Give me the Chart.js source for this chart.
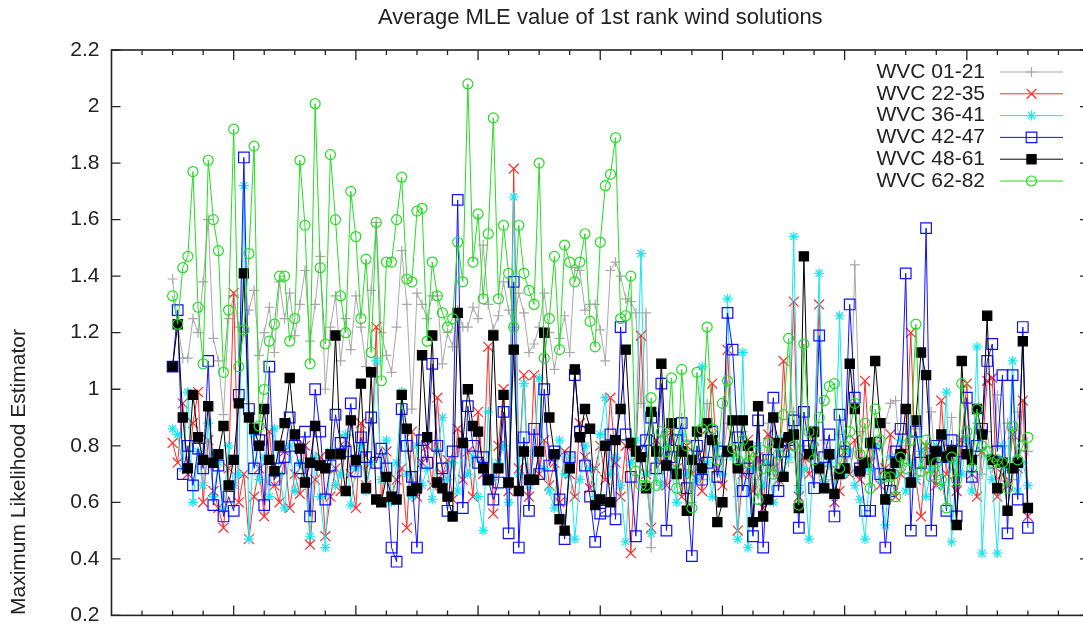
<!DOCTYPE html>
<html>
<head>
<meta charset="utf-8">
<title>Average MLE value of 1st rank wind solutions</title>
<script src="https://cdn.jsdelivr.net/npm/chart.js@4/dist/chart.umd.min.js"></script>
<style>
  html, body { margin: 0; padding: 0; background: #fff; overflow: hidden; }
  #wrap { position: relative; width: 1100px; height: 640px; }
</style>
</head>
<body>
<div id="wrap"><canvas id="mleChart"></canvas></div>
<script>
// day axis: samples run from day 12 to day 180, ticks every 6 days, long ticks every 24
const firstDay = 12;
const dayMax = 192;
const minorStep = 6;
const majorStep = 24;

const chartTitle = "Average MLE value of 1st rank wind solutions";
const yAxisTitle = "Maximum Likelihood Estimator";
const yTickValues = [0.2, 0.4, 0.6, 0.8, 1.0, 1.2, 1.4, 1.6, 1.8, 2.0, 2.2];

const seriesNames = ["WVC 01-21", "WVC 22-35", "WVC 36-41", "WVC 42-47", "WVC 48-61", "WVC 62-82"];

const wvc01_21 = [
    1.39, 1.23, 1.11, 1.11, 1.25, 1.20, 1.38, 1.60, 1.18, 1.10,
    0.91, 1.25, 1.33, 1.22, 1.20, 1.28, 1.35, 1.12, 1.20, 1.29,
    1.13, 1.38, 1.25, 1.34, 1.19, 1.30, 1.42, 1.17, 1.30, 1.47,
    1.00, 1.22, 1.33, 1.10, 1.25, 1.14, 1.33, 1.22, 1.08, 1.35,
    1.59, 1.20, 1.12, 1.06, 1.22, 1.49, 1.30, 0.93, 1.34, 1.30,
    1.25, 1.33, 1.33, 1.09, 1.20, 1.15, 1.28, 1.22, 1.22, 1.29,
    1.25, 1.51, 1.30, 1.21, 1.26, 1.38, 1.28, 1.22, 1.34, 1.27,
    1.13, 1.16, 1.22, 1.34, 1.20, 1.07, 1.18, 1.26, 1.13, 1.43,
    1.42, 1.28, 1.30, 1.30, 1.21, 1.10, 1.42, 1.45, 1.40, 1.32,
    1.31, 1.27, 0.95, 1.27, 0.44, 0.80, 0.75, 0.85, 0.78, 0.72,
    0.90, 0.82, 0.60, 0.78, 0.68, 0.95, 0.82, 0.70, 0.75, 0.88,
    0.80, 0.62, 0.85, 0.72, 0.80, 0.68, 0.75, 0.88, 0.70, 0.82,
    0.78, 0.74, 0.92, 0.66, 0.80, 0.76, 0.84, 0.70, 0.82, 0.78,
    0.68, 0.84, 0.72, 0.78, 1.44, 0.85, 0.70, 0.76, 0.82, 0.68,
    0.88, 0.95, 0.96, 0.74, 0.80, 0.70, 0.86, 0.72, 0.78, 0.92,
    0.68, 0.80, 0.74, 0.90, 0.66, 0.82, 0.95, 0.76, 0.88, 0.70,
    0.85, 0.72, 0.98, 0.80, 0.88, 0.68, 0.92, 0.82, 0.78
];

const wvc22_35 = [
    0.81, 0.74, 0.95, 0.70, 0.88, 0.99, 0.60, 0.82, 0.64, 0.58,
    0.51, 0.72, 1.34, 0.60, 0.70, 0.47, 0.62, 0.72, 0.55, 0.85,
    0.66, 0.60, 0.78, 0.58, 0.70, 0.63, 0.80, 0.45, 0.68, 0.76,
    0.48, 0.62, 0.72, 0.64, 0.82, 0.70, 0.58, 0.88, 0.66, 0.74,
    1.22, 0.60, 0.78, 0.62, 0.68, 0.72, 0.51, 0.85, 0.62, 0.74,
    0.80, 0.66, 0.97, 0.70, 0.75, 0.61, 0.86, 0.68, 0.78, 0.62,
    0.92, 0.70, 1.15, 0.56, 0.80, 1.00, 0.64, 1.78, 0.72, 1.05,
    0.62, 1.05, 0.70, 0.82, 0.66, 0.74, 0.60, 0.78, 0.70, 0.62,
    0.88, 0.76, 0.65, 0.72, 0.80, 0.68, 0.97, 0.74, 0.62, 0.80,
    0.42, 0.76, 1.19, 0.70, 0.51, 0.82, 0.74, 0.66, 0.85, 0.72,
    0.62, 0.80, 0.70, 0.76, 0.64, 0.86, 1.02, 0.72, 0.66, 1.14,
    0.78, 0.50, 0.70, 0.82, 0.64, 0.76, 0.58, 0.84, 0.72, 0.68,
    1.10, 0.80, 1.31, 0.62, 0.76, 0.70, 0.82, 1.30, 0.66, 0.74,
    0.60, 0.64, 0.78, 0.70, 0.82, 0.68, 1.03, 0.74, 0.80, 0.66,
    0.72, 0.84, 0.62, 0.70, 0.78, 1.20, 0.68, 0.55, 0.80, 0.72,
    0.66, 0.96, 0.70, 0.76, 0.64, 0.82, 1.02, 0.70, 0.62, 0.78,
    1.03, 1.04, 0.62, 0.70, 0.66, 0.84, 0.72, 0.96, 0.55
];

const wvc36_41 = [
    0.86, 0.84, 0.72, 0.99, 0.60, 0.78, 0.66, 0.88, 0.62, 0.74,
    0.58, 0.80, 0.66, 0.70, 1.72, 0.47, 0.84, 0.68, 0.76, 0.62,
    0.86, 0.70, 0.58, 0.80, 0.64, 0.74, 0.68, 0.48, 0.76, 0.62,
    0.44, 0.78, 0.66, 0.70, 0.84, 0.59, 0.72, 0.80, 0.64, 0.74,
    1.10, 0.68, 0.82, 0.60, 0.74, 0.99, 0.70, 0.62, 0.80, 0.66,
    0.72, 0.61, 0.78, 0.90, 0.68, 0.74, 0.64, 0.82, 0.70, 0.76,
    0.62, 0.50, 0.92, 0.68, 0.74, 0.80, 0.60, 1.68, 0.70, 1.02,
    0.66, 0.78, 1.04, 0.72, 0.64, 0.58, 0.82, 0.70, 0.76, 0.47,
    0.68, 0.80, 0.72, 0.62, 0.84, 0.97, 0.70, 0.76, 0.66, 0.46,
    0.74, 0.82, 1.48, 0.70, 0.49, 0.78, 0.66, 0.80, 0.72, 0.60,
    0.84, 0.70, 0.76, 0.68, 1.08, 0.74, 0.62, 0.80, 0.70, 1.32,
    0.76, 0.47, 1.13, 0.44, 0.72, 0.80, 0.66, 0.74, 0.60, 0.82,
    0.70, 0.76, 1.54, 0.64, 0.72, 0.47, 0.80, 1.41, 0.68, 0.74,
    0.62, 1.26, 0.70, 0.78, 0.66, 0.61, 0.47, 0.72, 0.80, 0.68,
    0.52, 0.76, 0.70, 0.82, 0.64, 0.74, 0.68, 0.78, 0.62, 0.72,
    0.80, 0.66, 0.99, 0.46, 0.74, 0.70, 0.82, 0.64, 1.15, 0.42,
    0.76, 0.68, 0.42, 0.80, 0.72, 1.10, 0.64, 0.74, 0.66
];

const wvc42_47 = [
    1.08, 1.28, 0.70, 0.80, 0.66, 0.79, 0.72, 1.10, 0.59, 0.73,
    0.55, 0.62, 0.57, 0.98, 1.82, 0.93, 0.72, 0.82, 0.59, 1.08,
    0.68, 0.72, 0.76, 0.90, 0.80, 0.72, 0.85, 0.55, 1.00, 0.85,
    0.61, 0.73, 0.91, 0.81, 0.78, 0.95, 0.71, 0.83, 0.76, 0.90,
    0.74, 0.79, 0.72, 0.44, 0.39, 0.93, 0.80, 0.69, 0.44, 0.82,
    0.74, 1.09, 0.80, 0.72, 0.57, 0.78, 1.67, 0.58, 0.94, 0.80,
    0.74, 0.76, 0.68, 0.61, 0.67, 0.92, 0.49, 1.38, 0.44, 0.83,
    0.57, 0.86, 0.70, 1.00, 0.73, 0.78, 0.61, 0.47, 0.76, 1.05,
    0.85, 0.73, 0.62, 0.46, 0.56, 0.57, 0.84, 0.54, 1.22, 0.84,
    0.69, 0.48, 0.78, 0.82, 0.90, 0.72, 1.02, 0.50, 0.76, 0.82,
    0.88, 0.65, 0.41, 0.80, 0.68, 0.74, 0.85, 0.69, 0.78, 1.27,
    1.14, 0.83, 0.64, 0.72, 0.48, 0.89, 0.44, 0.75, 0.97, 0.64,
    0.78, 0.82, 0.89, 0.51, 0.92, 0.80, 0.65, 1.19, 0.76, 0.84,
    0.55, 0.91, 0.78, 1.30, 0.97, 0.72, 0.57, 0.57, 0.81, 0.70,
    0.44, 0.64, 0.78, 0.86, 1.41, 0.50, 0.85, 0.74, 1.57, 0.50,
    0.80, 0.76, 0.57, 0.82, 0.55, 0.78, 0.97, 0.69, 0.80, 0.86,
    1.10, 1.16, 0.78, 1.05, 0.49, 1.05, 0.61, 1.22, 0.51
];

const wvc48_61 = [
    1.08, 1.23, 0.90, 0.72, 0.98, 0.83, 0.75, 0.94, 0.74, 0.77,
    0.87, 0.66, 0.75, 0.95, 1.41, 0.90, 0.86, 0.80, 0.93, 0.75,
    0.71, 0.80, 0.88, 1.04, 0.84, 0.79, 0.67, 0.74, 0.87, 0.73,
    0.72, 0.77, 1.19, 0.77, 0.64, 0.89, 0.75, 1.02, 0.65, 1.06,
    0.61, 0.60, 0.69, 0.62, 0.61, 0.98, 0.86, 0.64, 0.65, 1.12,
    0.83, 1.19, 0.67, 0.65, 0.62, 0.55, 1.27, 0.81, 1.00, 0.87,
    0.85, 0.72, 0.68, 1.19, 0.72, 0.98, 0.67, 1.14, 0.64, 0.78,
    0.68, 0.68, 0.78, 1.20, 0.90, 0.77, 0.54, 0.50, 0.72, 1.07,
    0.83, 0.93, 0.86, 0.59, 0.61, 0.80, 0.60, 0.82, 0.93, 1.14,
    0.81, 0.78, 0.76, 0.65, 0.92, 0.78, 1.09, 0.73, 0.88, 0.70,
    0.78, 0.57, 0.75, 0.85, 0.72, 0.88, 0.82, 0.53, 0.60, 0.78,
    0.89, 0.72, 0.89, 0.80, 0.53, 0.94, 0.55, 0.61, 0.90, 0.81,
    0.69, 0.83, 0.84, 0.58, 1.47, 0.77, 0.85, 0.72, 0.65, 0.77,
    0.63, 0.70, 0.72, 1.09, 0.93, 0.71, 0.74, 0.81, 1.10, 0.88,
    0.61, 0.70, 0.74, 0.77, 0.93, 0.67, 0.89, 1.13, 1.05, 0.75,
    0.78, 0.84, 0.76, 0.78, 0.52, 1.10, 0.77, 0.75, 0.93, 0.84,
    1.26, 0.75, 0.65, 0.74, 0.57, 0.72, 0.74, 1.17, 0.58
];

const wvc62_82 = [
    1.33, 1.23, 1.43, 1.47, 1.77, 1.29, 1.09, 1.81, 1.60, 1.49,
    1.06, 1.28, 1.92, 1.08, 1.21, 1.48, 1.86, 0.87, 1.00, 1.17,
    1.23, 1.40, 1.40, 1.17, 1.25, 1.81, 1.58, 1.09, 2.01, 1.43,
    1.16, 1.83, 1.60, 1.33, 1.20, 1.70, 1.54, 1.25, 1.46, 1.13,
    1.59, 1.03, 1.45, 1.45, 1.60, 1.75, 1.39, 1.38, 1.63, 1.64,
    1.17, 1.45, 1.33, 1.27, 1.22, 1.25, 1.52, 1.38, 2.08, 1.45,
    1.62, 1.32, 1.55, 1.96, 1.32, 1.58, 1.41, 1.22, 1.58, 1.41,
    1.35, 1.30, 1.80, 1.11, 1.25, 1.47, 1.14, 1.51, 1.45, 1.38,
    1.45, 1.55, 1.24, 1.15, 1.52, 1.72, 1.76, 1.89, 1.25, 1.26,
    1.40, 0.71, 0.66, 0.66, 0.97, 0.66, 0.85, 0.78, 1.04, 0.65,
    1.07, 0.80, 0.58, 1.06, 0.86, 1.22, 0.86, 0.75, 0.95, 1.03,
    0.79, 0.75, 0.82, 0.74, 0.78, 0.61, 0.72, 0.81, 0.70, 0.77,
    0.91, 1.18, 0.80, 0.59, 1.16, 0.85, 0.75, 0.90, 0.96, 1.01,
    1.02, 0.72, 0.80, 0.85, 0.95, 0.77, 0.88, 0.65, 0.93, 0.82,
    0.69, 0.69, 0.62, 0.76, 0.72, 0.82, 1.23, 0.71, 0.82, 0.69,
    0.74, 0.68, 0.58, 0.76, 0.68, 1.02, 0.85, 0.72, 0.93, 0.80,
    0.78, 0.74, 0.75, 0.74, 0.65, 0.87, 0.75, 0.80, 0.83
];

const seriesValues = [wvc01_21, wvc22_35, wvc36_41, wvc42_47, wvc48_61, wvc62_82];

// gnuplot-like line/point styles, drawn bottom to top (higher order first)
const seriesStyles = [
    { color: "#a8a8a8", point: "cross",    radius: 5,   fill: "transparent", order: 5 },
    { color: "#ff2a2a", point: "crossRot", radius: 7,   fill: "transparent", order: 4 },
    { color: "#12e8f0", point: "star",     radius: 5,   fill: "transparent", order: 3 },
    { color: "#1010ff", point: "rect",     radius: 7.5, fill: "transparent", order: 2 },
    { color: "#000000", point: "rect",     radius: 6.5, fill: "#000000",     order: 1 },
    { color: "#22dd22", point: "circle",   radius: 5,   fill: "transparent", order: 0 }
];

const FONT = '"Liberation Sans", Arial, sans-serif';
const TEXT_COLOR = "#222";

function toPoints(values) {
    return values.map((v, k) => ({ x: firstDay + k, y: v }));
}

const datasets = seriesNames.map((name, i) => {
    const s = seriesStyles[i];
    return {
        label: name,
        data: toPoints(seriesValues[i]),
        borderColor: s.color,
        borderWidth: 1,
        pointStyle: s.point,
        pointRadius: s.radius,
        pointBorderWidth: 1.2,
        pointBorderColor: s.color,
        pointBackgroundColor: s.fill,
        tension: 0,
        order: s.order
    };
});

// frame with inward ticks, title, rotated y label and the key in the upper right
const frameAndText = {
    id: "frameAndText",
    afterDraw(chart) {
        const { ctx, chartArea: a, scales } = chart;
        ctx.save();

        ctx.strokeStyle = TEXT_COLOR;
        ctx.lineWidth = 1.6;
        ctx.strokeRect(a.left, a.top, a.right - a.left, a.bottom - a.top);

        ctx.lineWidth = 1.3;
        ctx.beginPath();
        for (let d = minorStep; d < dayMax; d += minorStep) {
            const x = scales.x.getPixelForValue(d);
            const len = d % majorStep === 0 ? 10 : 5;
            ctx.moveTo(x, a.bottom);
            ctx.lineTo(x, a.bottom - len);
            ctx.moveTo(x, a.top);
            ctx.lineTo(x, a.top + len);
        }
        yTickValues.forEach(v => {
            const y = scales.y.getPixelForValue(v);
            ctx.moveTo(a.left, y);
            ctx.lineTo(a.left + 9, y);
            ctx.moveTo(a.right, y);
            ctx.lineTo(a.right - 9, y);
        });
        ctx.stroke();

        ctx.fillStyle = TEXT_COLOR;
        ctx.font = "22px " + FONT;
        ctx.textAlign = "center";
        ctx.textBaseline = "alphabetic";
        ctx.fillText(chartTitle, (a.left + a.right) / 2, 24);

        ctx.font = "21px " + FONT;
        ctx.save();
        ctx.translate(19, 472);
        ctx.rotate(-Math.PI / 2);
        ctx.textBaseline = "middle";
        ctx.fillText(yAxisTitle, 0, 0);
        ctx.restore();

        // key: text right-aligned, sample line with its marker to the right
        const textRight = 985;
        const lineLeft = 1000;
        const lineRight = 1063;
        chart.data.datasets.forEach((ds, k) => {
            const y = 72 + k * 21.8;
            ctx.fillStyle = TEXT_COLOR;
            ctx.textAlign = "right";
            ctx.textBaseline = "middle";
            ctx.fillText(ds.label, textRight, y);

            ctx.strokeStyle = ds.borderColor;
            ctx.lineWidth = ds.borderWidth;
            ctx.beginPath();
            ctx.moveTo(lineLeft, y);
            ctx.lineTo(lineRight, y);
            ctx.stroke();

            ctx.fillStyle = ds.pointBackgroundColor;
            ctx.lineWidth = ds.pointBorderWidth;
            Chart.helpers.drawPoint(ctx, {
                pointStyle: ds.pointStyle,
                radius: ds.pointRadius,
                borderWidth: ds.pointBorderWidth,
                rotation: 0
            }, (lineLeft + lineRight) / 2, y);
        });

        ctx.restore();
    }
};

new Chart(document.getElementById("mleChart"), {
    type: "line",
    data: { datasets: datasets },
    options: {
        responsive: true,
        maintainAspectRatio: false,
        animation: false,
        layout: { padding: { top: 50, right: 11, bottom: 19, left: 0 } },
        plugins: {
            legend: { display: false },
            title: { display: false },
            tooltip: { enabled: false }
        },
        scales: {
            x: { type: "linear", min: 0, max: dayMax, display: false },
            y: {
                min: 0.2,
                max: 2.2,
                grid: { display: false, drawTicks: false },
                border: { display: false },
                afterBuildTicks: scale => {
                    scale.ticks = yTickValues.map(v => ({ value: v }));
                },
                afterFit: scale => {
                    scale.width = 111.5;
                },
                ticks: {
                    padding: 12,
                    color: TEXT_COLOR,
                    font: { family: FONT, size: 21 },
                    callback: v => String(Number(v.toFixed(1)))
                }
            }
        }
    },
    plugins: [frameAndText]
});
</script>
</body>
</html>
